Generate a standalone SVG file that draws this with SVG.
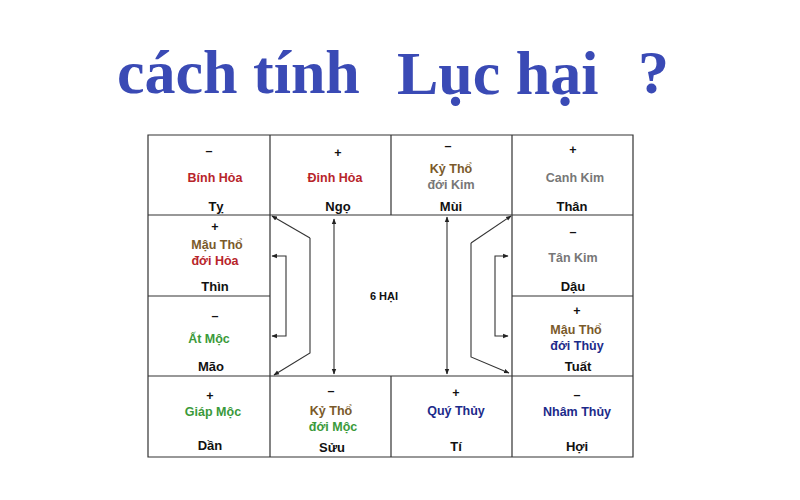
<svg xmlns="http://www.w3.org/2000/svg" width="800" height="500" viewBox="0 0 800 500">
<style>
.t{font-family:"Liberation Serif","Times New Roman",serif;font-weight:bold;font-size:62px;fill:#3a4ab5}
.c{font-family:"Liberation Sans",Arial,sans-serif;font-weight:bold;font-size:12.5px;text-anchor:middle}
.s{font-family:"Liberation Sans",Arial,sans-serif;font-weight:bold;font-size:13px;text-anchor:middle;fill:#111}
.k{fill:#111}
.red{fill:#b8242a}
.brn{fill:#7a5a2a}
.gry{fill:#777}
.grn{fill:#3a9a3a}
.nav{fill:#1c2a8a}
.g{fill:none;stroke:#333;stroke-width:1.2}
.ln{fill:none;stroke:#333;stroke-width:1.1}
</style>
<defs>
<marker id="ah" viewBox="0 0 10 10" refX="9" refY="5" markerWidth="5" markerHeight="5" orient="auto-start-reverse">
<path d="M0,1 L10,5 L0,9 z" fill="#222"/>
</marker>
</defs>
<rect width="800" height="500" fill="#fff"/>
<g id="title">
<text class="t" x="117" y="93">cách tính</text>
<text class="t" x="397" y="94">Lục hại</text>
<text class="t" x="638" y="93">?</text>
</g>
<g id="grid">
<path class="g" d="M148,135 H633 V457 H148 Z M148,215 H633 M148,296 H270 M512,296 H633 M148,376 H633 M270,135 V457 M391,135 V215 M391,376 V457 M512,135 V457"/>
</g>
<g id="ty"><text class="c k" x="209" y="155">–</text><text class="c red" x="215" y="182">Bính Hỏa</text><text class="s" x="216" y="211">Tỵ</text></g>
<g id="ngo"><text class="c k" x="338" y="157">+</text><text class="c red" x="335" y="182">Đinh Hỏa</text><text class="s" x="338" y="211">Ngọ</text></g>
<g id="mui"><text class="c k" x="448" y="150">–</text><text class="c brn" x="451" y="173">Kỷ Thổ</text><text class="c gry" x="451" y="189">đới Kim</text><text class="s" x="451" y="211">Mùi</text></g>
<g id="than"><text class="c k" x="573" y="154">+</text><text class="c gry" x="575" y="182">Canh Kim</text><text class="s" x="572" y="211">Thân</text></g>
<g id="thin"><text class="c k" x="215" y="231">+</text><text class="c brn" x="217" y="249">Mậu Thổ</text><text class="c red" x="215" y="265">đới Hỏa</text><text class="s" x="215" y="291">Thìn</text></g>
<g id="dau"><text class="c k" x="573" y="236">–</text><text class="c gry" x="573" y="262">Tân Kim</text><text class="s" x="573" y="291">Dậu</text></g>
<g id="mao"><text class="c k" x="215" y="320">–</text><text class="c grn" x="209" y="343">Ất Mộc</text><text class="s" x="211" y="371">Mão</text></g>
<g id="tuat"><text class="c k" x="577" y="315">+</text><text class="c brn" x="576" y="334">Mậu Thổ</text><text class="c nav" x="577" y="350">đới Thủy</text><text class="s" x="578" y="371">Tuất</text></g>
<g id="dan"><text class="c k" x="210" y="400">+</text><text class="c grn" x="213" y="416">Giáp Mộc</text><text class="s" x="210" y="450">Dần</text></g>
<g id="suu"><text class="c k" x="331" y="395">–</text><text class="c brn" x="331" y="415">Kỷ Thổ</text><text class="c grn" x="333" y="431">đới Mộc</text><text class="s" x="332" y="452">Sửu</text></g>
<g id="ti"><text class="c k" x="456" y="397">+</text><text class="c nav" x="456" y="415">Quý Thủy</text><text class="s" x="456" y="451">Tí</text></g>
<g id="hoi"><text class="c k" x="577" y="399">–</text><text class="c nav" x="577" y="416">Nhâm Thủy</text><text class="s" x="577" y="451">Hợi</text></g>
<g id="center"><text class="s" x="384" y="300" style="font-size:11px">6 HẠI</text></g>
<g id="connectors">
<path class="ln" d="M310,238 L272,216" marker-end="url(#ah)"/>
<path class="ln" d="M310,238 V353 L274,375" marker-end="url(#ah)"/>
<path class="ln" d="M272,256 H286 V336 H272" marker-start="url(#ah)" marker-end="url(#ah)"/>
<path class="ln" d="M334,219 V374" marker-start="url(#ah)" marker-end="url(#ah)"/>
<path class="ln" d="M447,217 V374" marker-start="url(#ah)" marker-end="url(#ah)"/>
<path class="ln" d="M471,243 L511,216" marker-end="url(#ah)"/>
<path class="ln" d="M471,243 V357 L509,373" marker-end="url(#ah)"/>
<path class="ln" d="M508,256 H495 V336 H508" marker-start="url(#ah)" marker-end="url(#ah)"/>
</g>
</svg>
